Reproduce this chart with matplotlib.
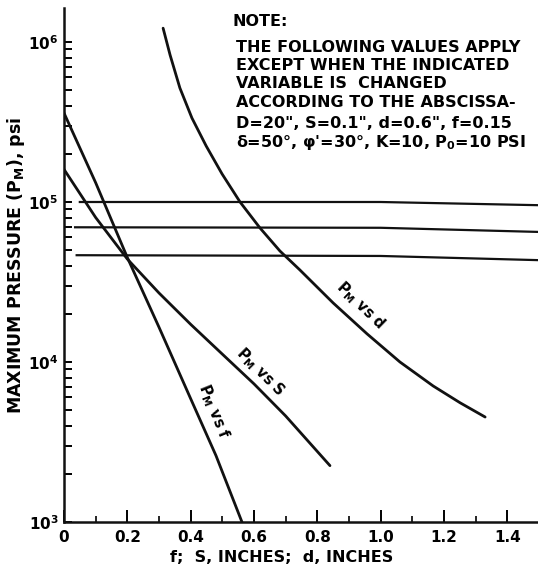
import matplotlib
matplotlib.use("Agg")
import matplotlib.pyplot as plt
import numpy as np

# values (x in inches or f, y = P_M in psi)
f_x = [0.0, 0.1, 0.2, 0.3, 0.4, 0.48, 0.562]
f_p = [3.6e5, 1.32e5, 4.5e4, 1.65e4, 5.9e3, 2.6e3, 1.0e3]

s_x = [0.0, 0.1, 0.2, 0.3, 0.4, 0.5, 0.6, 0.7, 0.84]
s_p = [1.6e5, 8.0e4, 4.4e4, 2.7e4, 1.72e4, 1.12e4, 7.3e3, 4.6e3, 2.25e3]

d_x = [0.313, 0.335, 0.366, 0.404, 0.449, 0.499, 0.556, 0.619, 0.682, 0.745,
       0.85, 0.957, 1.061, 1.166, 1.251, 1.33]
d_p = [1.22e6, 8.3e5, 5.16e5, 3.35e5, 2.24e5, 1.5e5, 1.0e5, 6.88e4, 4.94e4, 3.76e4,
       2.34e4, 1.5e4, 1.0e4, 7.08e3, 5.56e3, 4.53e3]

# the three nearly flat curves
h_x = [[0.05, 1.0, 1.5], [0.035, 1.0, 1.5], [0.04, 1.0, 1.5]]
h_p = [[1.0e5, 1.0e5, 9.55e4], [6.95e4, 6.9e4, 6.5e4], [4.65e4, 4.6e4, 4.33e4]]

xticks = [0, 0.2, 0.4, 0.6, 0.8, 1.0, 1.2, 1.4]
xticklabels = ["0", "0.2", "0.4", "0.6", "0.8", "1.0", "1.2", "1.4"]
yticks = [1e3, 1e4, 1e5, 1e6]
yticklabels = ["10$^3$", "10$^4$", "10$^5$", "10$^6$"]

note = ["THE FOLLOWING VALUES APPLY",
        "EXCEPT WHEN THE INDICATED",
        "VARIABLE IS  CHANGED",
        "ACCORDING TO THE ABSCISSA-"]
params = ['D=20", S=0.1", d=0.6", f=0.15',
          "δ=50°, φ'=30°, K=10, P$_0$=10 PSI"]

plt.rcParams['font.family'] = ['DejaVu Sans']
plt.rcParams['font.weight'] = 'bold'
plt.rcParams['mathtext.default'] = 'bf'

fig = plt.figure(figsize=(5.38, 5.69), dpi=100)
ax = fig.add_axes([64/538, 47/569, 474/538, 514/569])

k = "#111111"
ax.plot(f_x, f_p, color=k, lw=2.0, solid_capstyle="round")
ax.plot(s_x, s_p, color=k, lw=2.0, solid_capstyle="round")
ax.plot(d_x, d_p, color=k, lw=2.0, solid_capstyle="round", solid_joinstyle="round")
for hx, hp in zip(h_x, h_p):
    ax.plot(hx, hp, color=k, lw=1.6)

ax.set_yscale("log")
ax.set_xlim(0, 1.497)
ax.set_ylim(1e3, 10**6.2125)

for sp in ["top", "right"]:
    ax.spines[sp].set_visible(False)
for sp in ["left", "bottom"]:
    ax.spines[sp].set_linewidth(1.8)
    ax.spines[sp].set_color(k)

ax.set_xticks(xticks)
ax.set_xticklabels(xticklabels, fontsize=11, fontweight="bold")
ax.set_xticks(np.arange(0.1, 1.5, 0.2), minor=True)
ax.set_yticks(yticks)
ax.set_yticklabels(yticklabels, fontsize=11, fontweight="bold")
ax.tick_params(axis="x", which="major", direction="in", length=9, width=1.4, pad=6)
ax.tick_params(axis="x", which="minor", direction="in", length=4, width=1.2)
ax.tick_params(axis="y", which="major", direction="in", length=6, width=1.4, pad=4)
ax.tick_params(axis="y", which="minor", direction="in", length=6, width=1.4)
ax.yaxis.set_minor_formatter(matplotlib.ticker.NullFormatter())

ax.set_xlabel("f;  S, INCHES;  d, INCHES", fontsize=11.5, fontweight="bold")
ax.xaxis.set_label_coords(0.46, -0.054)
ax.set_ylabel("MAXIMUM PRESSURE (P$_M$), psi", fontsize=12.5, fontweight="bold", labelpad=1)

# curve labels
lab = dict(fontsize=10.5, fontweight="bold", ha="center", va="center", rotation_mode="anchor")
ax.text(0.935, 2.24e4, "P$_M$ vs d", rotation=-44, **lab)
ax.text(0.619, 8.7e3, "P$_M$ vs S", rotation=-45, **lab)
ax.text(0.471, 4.9e3, "P$_M$ vs f", rotation=-68, **lab)

# note block
fs = 11.5
fig.text(233/538, 1 - 22/569, "NOTE:", fontsize=fs, fontweight="bold", va="center")
for i, line in enumerate(note):
    fig.text(236/538, 1 - (47 + 18.5*i)/569, line, fontsize=fs, fontweight="bold", va="center")
for i, line in enumerate(params):
    fig.text(236/538, 1 - (124 + 18*i)/569, line, fontsize=fs, fontweight="bold", va="center")

fig.savefig("out.png", dpi=100)
